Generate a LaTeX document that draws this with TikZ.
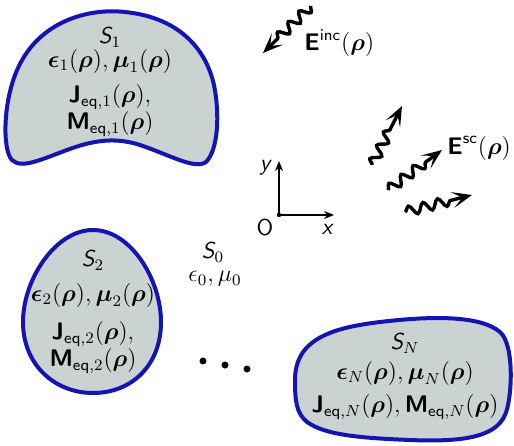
\documentclass[tikz,border=0pt]{standalone}
\usepackage{amsmath, amssymb}
\usetikzlibrary{arrows.meta, decorations.pathmorphing, positioning}
\definecolor{rimblue}{HTML}{1414B4}
\definecolor{bodygray}{HTML}{CAD2D2}
\newcommand{\brho}{\boldsymbol{\rho}}
\newcommand{\beps}{\boldsymbol{\epsilon}}
\newcommand{\bmu}{\boldsymbol{\mu}}
\newcommand{\bsf}[1]{\boldsymbol{\mathsf{#1}}}
\newcommand{\slf}[1]{\text{\sffamily\slshape #1}}

\begin{document}
\begin{tikzpicture}[x=0.5pt, y=-0.5pt,
    body/.style={draw=rimblue, fill=bodygray, line width=2pt},
    lbl/.style={inner sep=0pt, font=\sffamily\fontsize{11.5}{13}\selectfont},
    wave/.style={line width=1.7pt, decorate,
        decoration={snake, amplitude=2.4pt, segment length=7.5pt, post length=10pt},
        -{Stealth[length=10pt, width=8pt, inset=5pt]}},
    axis/.style={line width=1pt, -{Stealth[length=5pt, width=4pt]}}]
    \useasboundingbox (0,0) rectangle (514,445);

    % scatterer 1
    \draw[body] (12,160)
        .. controls (2,150) and (3,100) .. (18,68)
        .. controls (40,20) and (90,8) .. (125,12)
        .. controls (175,17) and (205,45) .. (214,85)
        .. controls (220,115) and (218,150) .. (206,162)
        .. controls (195,170) and (170,155) .. (140,145)
        .. controls (100,132) and (70,150) .. (40,160)
        .. controls (25,165) and (17,165) .. (12,160) -- cycle;
    \node[lbl] (s1name) at (110,37) {$\slf{S}_1$};
    \node[lbl] (s1mat) at (110,61) {$\beps_1(\brho), \bmu_1(\brho)$};
    \node[lbl] (s1j) at (110,97) {$\bsf{J}_{\mathsf{eq},1}(\brho),$};
    \node[lbl] (s1m) at (110,124) {$\bsf{M}_{\mathsf{eq},1}(\brho)$};

    % scatterer 2
    \draw[body] (93,230)
        .. controls (55,230) and (23,280) .. (23,322)
        .. controls (23,365) and (55,393) .. (93,393)
        .. controls (132,393) and (161,365) .. (161,322)
        .. controls (161,280) and (131,230) .. (93,230) -- cycle;
    \node[lbl] (s2name) at (93,260) {$\slf{S}_2$};
    \node[lbl] (s2mat) at (93,295) {$\beps_2(\brho), \bmu_2(\brho)$};
    \node[lbl] (s2j) at (93,334) {$\bsf{J}_{\mathsf{eq},2}(\brho),$};
    \node[lbl] (s2m) at (93,361) {$\bsf{M}_{\mathsf{eq},2}(\brho)$};

    % scatterer N
    \draw[body] (295,380)
        .. controls (295,340) and (330,328) .. (380,322)
        .. controls (430,316) and (480,315) .. (500,332)
        .. controls (515,345) and (512,400) .. (505,415)
        .. controls (495,438) and (460,442) .. (410,440)
        .. controls (360,438) and (325,435) .. (307,422)
        .. controls (296,413) and (295,400) .. (295,380) -- cycle;
    \node[lbl] (snname) at (405,343) {$\slf{S}_N$};
    \node[lbl] (snmat) at (405,373) {$\beps_N(\brho), \bmu_N(\brho)$};
    \node[lbl] (snjm) at (405,407) {$\bsf{J}_{\mathsf{eq},N}(\brho), \bsf{M}_{\mathsf{eq},N}(\brho)$};

    % background medium
    \node[lbl] (s0name) at (213,252) {$\slf{S}_0$};
    \node[lbl] (s0mat) at (215,279) {$\epsilon_0, \mu_0$};
    \foreach \px/\py in {203/361, 225/365, 247/369}
        \fill (\px,\py) circle (3.5);

    % axes
    \coordinate (orig) at (279,215);
    \coordinate (yend) at (279,161);
    \coordinate (xend) at (334,215);
    \draw[axis] (orig) -- (yend);
    \draw[axis] (orig) -- (xend);
    \fill (orig) circle (2.2);
    \node[lbl] (ylab) at (265,168) {\slshape y};
    \node[lbl] (xlab) at (327,229) {\slshape x};
    \node[lbl] (olab) at (265,228) {O};

    % incident wave
    \coordinate (incs) at (311,6);
    \coordinate (inct) at (263,53);
    \draw[wave] (incs) -- (inct);
    \node[lbl, anchor=west] (einc) at (304,43) {$\bsf{E}^{\mathsf{inc}}(\brho)$};

    % scattered waves
    \coordinate (sca) at (372,165);
    \coordinate (scaend) at (402,106);
    \coordinate (scb) at (388,190);
    \coordinate (scbend) at (442,150);
    \coordinate (scc) at (405,212);
    \coordinate (sccend) at (472,195);
    \draw[wave] (sca) -- (scaend);
    \draw[wave] (scb) -- (scbend);
    \draw[wave] (scc) -- (sccend);
    \node[lbl, anchor=west] (esc) at (447,148) {$\bsf{E}^{\mathsf{sc}}(\brho)$};
\end{tikzpicture}
\end{document}
